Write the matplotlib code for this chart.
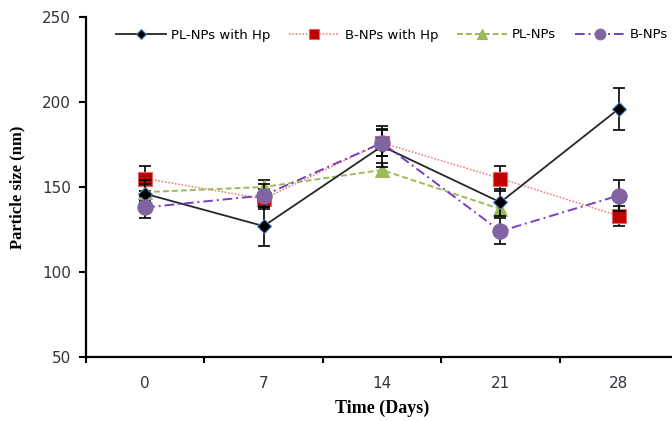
import matplotlib
matplotlib.use("Agg")
import matplotlib.pyplot as plt
import numpy as np

days = ["0", "7", "14", "21", "28"]

pl_hp = [146, 127, 174, 141, 196]
pl_hp_err = [8, 11.5, 12, 8, 12.5]

b_hp = [155, 143, 176, 155, 133]
b_hp_err = [7.5, 6, 7.5, 7.5, 6]

pl = [147, 150, 160, 137]
pl_err = [5, 4, 4, 4]

b = [138, 145, 176, 124, 145]
b_err = [6.5, 7, 8, 7.5, 9]

fig = plt.figure(figsize=(6.72, 4.21), dpi=100)
ax = fig.add_axes([86 / 672, 1 - 357 / 421, 592 / 672, 340 / 421])

x = np.arange(len(days))

series = [
    (pl_hp, pl_hp_err, "PL-NPs with Hp", dict(color="#262626", ls="-", lw=1.3,
        marker="D", ms=7, mfc="black", mec="#4F81BD", mew=0.8), 4),
    (b_hp, b_hp_err, "B-NPs with Hp", dict(color="#F07070", ls=(0, (1, 1.2)), lw=1.1,
        marker="s", ms=10, mfc="#C00000", mec="#E06666", mew=0.8), 2),
    (pl, pl_err, "PL-NPs", dict(color="#9BBB59", ls=(0, (3, 1.6)), lw=1.4,
        marker="^", ms=10, mfc="#9BBB59", mec="#9BBB59", mew=0.8), 3),
    (b, b_err, "B-NPs", dict(color="#7A3FC0", ls=(0, (5, 2, 1, 2)), lw=1.4,
        marker="o", ms=11, mfc="#8064A2", mec="#8064A2", mew=0.8), 5),
]

handles = []
for vals, errs, label, style, z in series:
    xs = x[:len(vals)]
    ax.errorbar(xs, vals, yerr=errs, fmt="none", ecolor="black",
                elinewidth=1.2, capsize=4, capthick=1.2, zorder=z - 0.5)
    line, = ax.plot(xs, vals, label=label, zorder=z, **style)
    handles.append(line)

ax.set_xlim(-0.5, len(days) - 0.5)
ax.set_ylim(50, 250)
ax.set_yticks([50, 100, 150, 200, 250])
ax.set_xticks(x)
ax.set_xticklabels(days)
ax.set_xticks(np.arange(-0.5, len(days), 1.0), minor=True)
ax.tick_params(axis="x", which="major", length=0, pad=14)
ax.tick_params(axis="x", which="minor", length=4, width=1.5, direction="out")
ax.tick_params(axis="y", length=5, width=1.5, direction="out", pad=6)

for lab in ax.get_xticklabels() + ax.get_yticklabels():
    lab.set_fontsize(11)
    lab.set_color("#333340")

for s in ["top", "right"]:
    ax.spines[s].set_visible(False)
for s in ["left", "bottom"]:
    ax.spines[s].set_linewidth(1.6)

ax.set_ylabel("Particle size (nm)", fontfamily="Liberation Serif",
              fontweight="bold", fontsize=12, labelpad=12)
ax.set_xlabel("Time (Days)", fontfamily="Liberation Serif",
              fontweight="bold", fontsize=13, labelpad=6)

leg = fig.legend(handles=handles, loc="center left", ncol=4,
                 bbox_to_anchor=(116 / 672, 1 - 35 / 421), frameon=False,
                 fontsize=9.5, handlelength=3.8, columnspacing=1.4,
                 handletextpad=0.4, markerscale=0.7, borderaxespad=0,
                 borderpad=0)

fig.savefig("out.png", dpi=100)
